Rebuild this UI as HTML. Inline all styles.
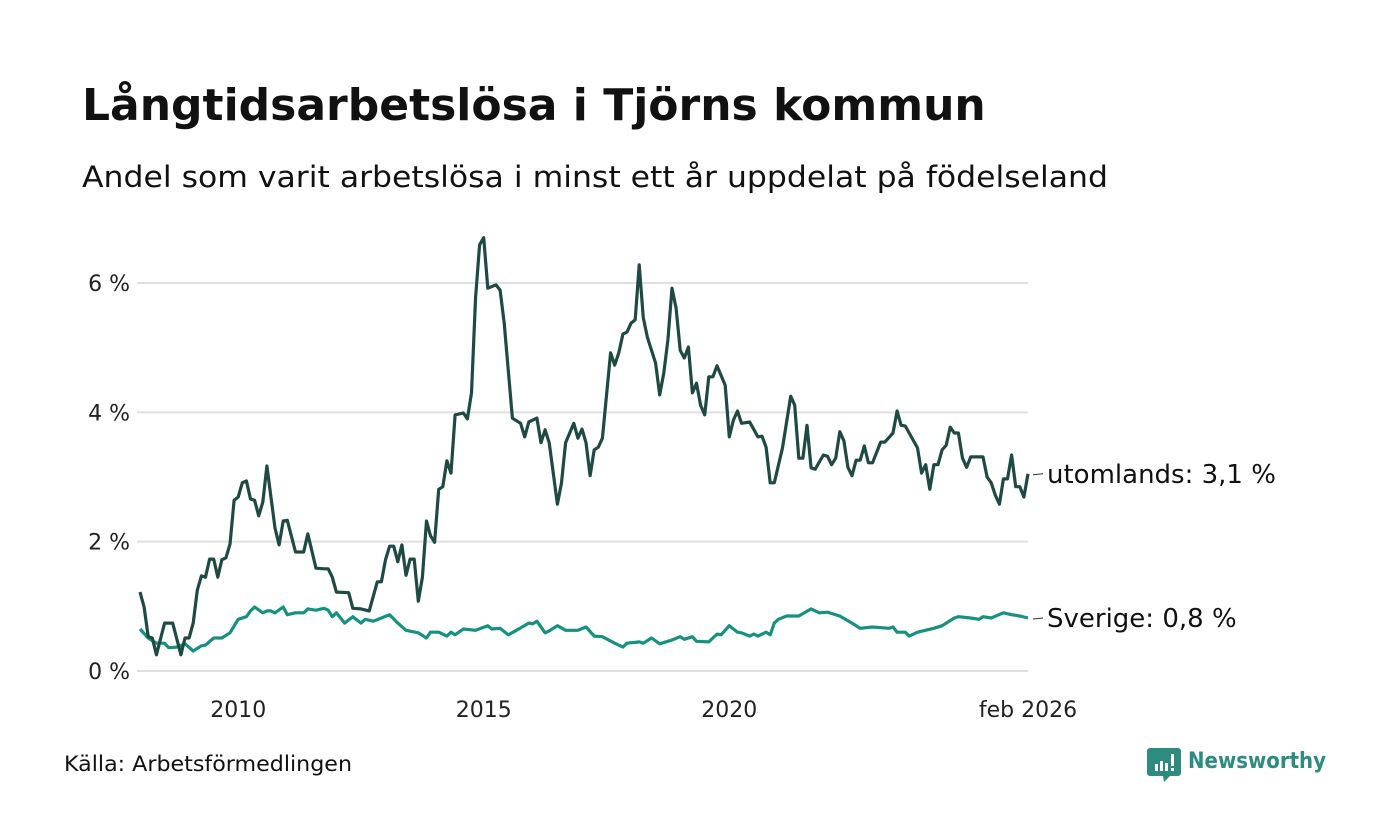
<!DOCTYPE html>
<html><head><meta charset="utf-8"><style>
body{margin:0;background:#fff;font-family:"Liberation Sans","DejaVu Sans",sans-serif;}
#wrap{position:relative;width:1400px;height:840px;overflow:hidden;background:#fff}
</style></head><body>
<div id="wrap">
<svg id="chart" width="1400" height="840">
<text x="82" y="120" font-size="44" font-weight="bold" fill="#111" font-family="DejaVu Sans, sans-serif">Långtidsarbetslösa i Tjörns kommun</text>
<text x="82" y="187" font-size="29" fill="#111" font-family="DejaVu Sans, sans-serif" textLength="1026" lengthAdjust="spacingAndGlyphs">Andel som varit arbetslösa i minst ett år uppdelat på födelseland</text>
<g id="grid"></g>
<g id="yticks"></g>
<g id="xticks"></g>
<g id="series"></g>
<text x="64" y="771" font-size="21" fill="#111" font-family="DejaVu Sans, sans-serif" textLength="288" lengthAdjust="spacingAndGlyphs">Källa: Arbetsförmedlingen</text>
<g>
<path d="M1150 748 h28 a3 3 0 0 1 3 3 v22 a3 3 0 0 1 -3 3 h-8 l-6 6 l-1 -6 h-13 a3 3 0 0 1 -3 -3 v-22 a3 3 0 0 1 3 -3z" fill="#2e8b80"/>
<rect x="1155" y="764" width="3" height="7" fill="#fff"/><rect x="1160" y="761" width="3" height="10" fill="#fff"/><rect x="1165" y="763" width="3" height="8" fill="#fff"/><rect x="1171" y="754" width="3" height="12" fill="#fff"/><rect x="1171" y="768" width="3" height="3" fill="#fff"/>
<text x="1188" y="768" font-size="22" font-weight="bold" fill="#2e8b80" font-family="DejaVu Sans, sans-serif" textLength="138" lengthAdjust="spacingAndGlyphs">Newsworthy</text>
</g>
</svg>
</div>
<script>
const yTickValues=[0,2,4,6];
const yTickLabels=["0 %","2 %","4 %","6 %"];
const xTickMonths=[24,84,144,217];
const xTickLabels=["2010","2015","2020","feb 2026"];
const abroadMonths=[0,1,2,3,4,6,8,10,11,12,13,14,15,16,17,18,19,20,21,22,23,24,25,26,27,28,29,30,31,33,34,35,36,38,40,41,43,45,46,47,48,51,52,54,56,58,59,60,61,62,63,64,65,66,67,68,69,70,71,72,73,74,75,76,77,79,80,81,82,83,84,85,87,88,89,91,93,94,95,97,98,99,100,102,103,104,106,107,108,109,110,111,112,113,115,116,117,118,119,120,121,122,123,124,126,127,128,129,130,131,132,133,134,135,136,137,138,139,140,141,143,144,145,146,147,149,151,152,153,154,155,157,159,160,161,162,163,164,165,167,168,169,170,171,172,173,174,175,176,177,178,179,181,182,184,185,186,187,190,191,192,193,194,195,196,197,198,199,200,201,202,203,206,207,208,209,210,211,212,213,214,215,216,217];
const abroadValues=[1.22,0.99,0.53,0.51,0.25,0.74,0.74,0.25,0.51,0.51,0.74,1.25,1.47,1.45,1.73,1.73,1.45,1.72,1.75,1.96,2.64,2.69,2.91,2.94,2.66,2.64,2.40,2.61,3.17,2.21,1.95,2.32,2.33,1.84,1.84,2.12,1.59,1.58,1.58,1.45,1.22,1.21,0.97,0.96,0.93,1.38,1.38,1.72,1.93,1.93,1.69,1.95,1.48,1.73,1.73,1.08,1.45,2.32,2.09,1.99,2.81,2.85,3.25,3.06,3.96,3.99,3.90,4.30,5.78,6.59,6.70,5.92,5.97,5.89,5.38,3.91,3.83,3.62,3.85,3.91,3.53,3.73,3.53,2.58,2.91,3.53,3.83,3.60,3.74,3.53,3.02,3.42,3.46,3.60,4.92,4.73,4.92,5.21,5.24,5.38,5.43,6.28,5.46,5.16,4.76,4.27,4.61,5.12,5.92,5.61,4.96,4.84,5.01,4.30,4.45,4.11,3.96,4.55,4.55,4.72,4.42,3.62,3.88,4.02,3.83,3.85,3.62,3.63,3.46,2.91,2.91,3.45,4.25,4.11,3.29,3.29,3.80,3.14,3.12,3.34,3.32,3.19,3.29,3.70,3.56,3.15,3.02,3.26,3.26,3.48,3.22,3.22,3.54,3.54,3.68,4.02,3.80,3.79,3.45,3.06,3.19,2.81,3.19,3.19,3.42,3.49,3.77,3.68,3.68,3.29,3.15,3.31,3.31,3.00,2.91,2.72,2.58,2.97,2.97,3.34,2.85,2.85,2.69,3.05];
const swedenMonths=[0,2,4,6,7,9,11,13,15,16,18,20,22,24,26,27,28,30,31,32,33,35,36,38,40,41,43,45,46,47,48,50,52,54,55,57,61,63,65,68,70,71,73,75,76,77,79,82,85,86,88,90,92,95,96,97,99,100,102,104,107,109,111,113,116,118,119,122,123,125,127,130,132,133,135,136,139,141,142,144,146,147,149,150,151,153,154,155,156,158,161,164,166,168,171,174,176,179,183,184,185,187,188,190,194,196,199,200,203,205,206,208,211,213,215,217];
const swedenValues=[0.65,0.51,0.43,0.43,0.36,0.37,0.42,0.31,0.39,0.40,0.51,0.51,0.59,0.80,0.84,0.93,0.99,0.90,0.93,0.93,0.90,0.99,0.87,0.90,0.90,0.96,0.94,0.97,0.94,0.84,0.90,0.74,0.84,0.74,0.80,0.77,0.87,0.74,0.63,0.59,0.51,0.60,0.60,0.54,0.60,0.56,0.65,0.63,0.70,0.65,0.66,0.56,0.63,0.74,0.73,0.77,0.59,0.62,0.70,0.63,0.63,0.68,0.54,0.53,0.43,0.37,0.43,0.45,0.43,0.51,0.42,0.48,0.53,0.49,0.53,0.46,0.45,0.57,0.56,0.70,0.60,0.59,0.54,0.57,0.54,0.60,0.56,0.74,0.80,0.85,0.85,0.96,0.90,0.91,0.85,0.74,0.66,0.68,0.66,0.68,0.60,0.60,0.54,0.60,0.66,0.70,0.82,0.84,0.82,0.80,0.84,0.82,0.90,0.87,0.85,0.82];
const abroadLabel="utomlands: 3,1 %";
const swedenLabel="Sverige: 0,8 %";

const NS="http://www.w3.org/2000/svg";
const X0=140,X1=1028,Y0=671,PX_PER=64.67,MAXM=217;
function xs(m){return X0+m*(X1-X0)/MAXM;}
function ys(v){return Y0-v*PX_PER;}
function mk(tag,attrs,parent){const e=document.createElementNS(NS,tag);for(const k in attrs)e.setAttribute(k,attrs[k]);parent.appendChild(e);return e;}
const grid=document.getElementById('grid'),yt=document.getElementById('yticks'),xt=document.getElementById('xticks'),ser=document.getElementById('series');
yTickValues.forEach((v,i)=>{
 const l=mk('line',{x1:137,x2:1028,y1:ys(v),y2:ys(v),stroke:'#dfdfe3','stroke-width':2},grid);
 
 
 const t=mk('text',{x:130,y:ys(v)+8,'text-anchor':'end','font-size':22,fill:'#222','font-family':'DejaVu Sans, sans-serif'},yt);
 t.textContent=yTickLabels[i];
 
 
});
xTickMonths.forEach((m,i)=>{
 const t=mk('text',{x:xs(m),y:717,'text-anchor':'middle','font-size':22,fill:'#222','font-family':'DejaVu Sans, sans-serif'},xt);
 t.textContent=xTickLabels[i];
 
 
});
function drawLine(ms,vs,color,name,label){
 const d=ms.map((m,i)=>(i?'L':'M')+xs(m).toFixed(1)+' '+ys(vs[i]).toFixed(1)).join(' ');
 const p=mk('path',{d:d,fill:'none',stroke:color,'stroke-width':3.2,'stroke-linejoin':'round'},ser);
 
 
 const ly=ys(vs[vs.length-1]);
 const tk=mk('line',{x1:1033,x2:1043,y1:ly+1,y2:ly,stroke:'#333','stroke-width':1},ser);
 
 
 const t=mk('text',{x:1047,y:ly+9,'font-size':26,fill:'#111','font-family':'DejaVu Sans, sans-serif'},ser);
 t.textContent=label;
 
 
}
drawLine(swedenMonths,swedenValues,'#17917f','sweden',swedenLabel);
drawLine(abroadMonths,abroadValues,'#1f4a44','abroad',abroadLabel);
</script>
</body></html>
